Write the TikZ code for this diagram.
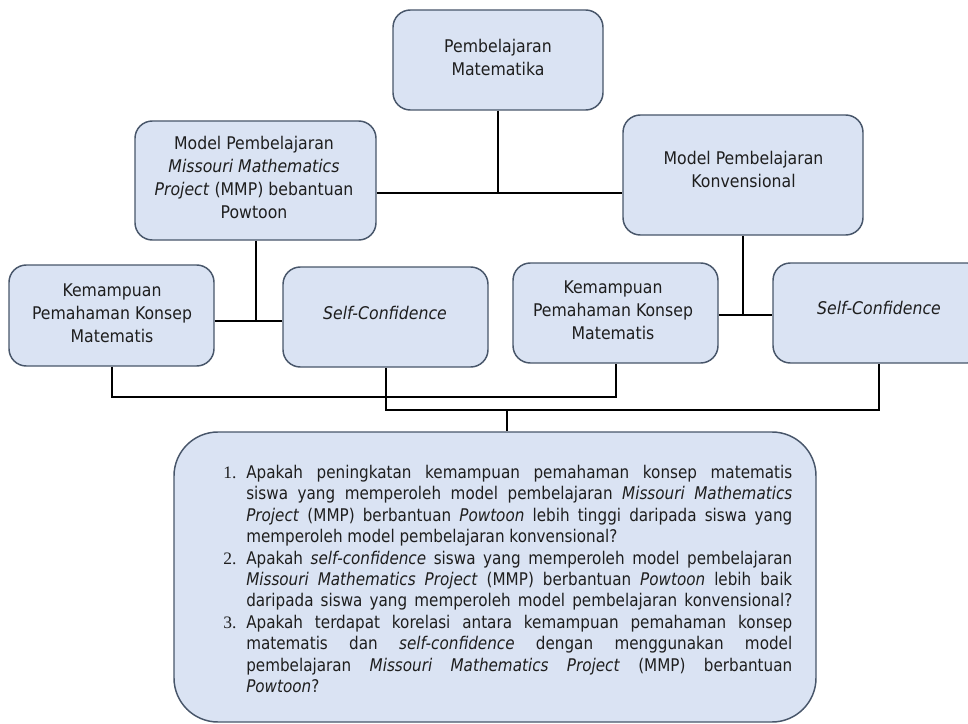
\documentclass[tikz,border=0pt]{standalone}
\usepackage{fontspec}
\setmainfont{DejaVu Sans}[FakeStretch=0.9]
\newfontfamily\bigf{DejaVu Sans}[FakeStretch=0.87]
\newfontfamily\numf{Liberation Serif}
\definecolor{boxfill}{RGB}{218,227,243}
\definecolor{boxline}{RGB}{72,86,106}
\definecolor{txt}{RGB}{30,30,30}
\newdimen\qlw \qlw=409.5pt
\newdimen\qind \qind=17.25pt
\newcommand\qjl[1]{\hbox{\hskip\qind\hbox to \qlw{#1}}}
\newcommand\qnl[1]{\hbox{\hskip\qind #1}}
\newcommand\qfirst[2]{\hbox{\hbox to \qind{\numf #1\hss}\hbox to \qlw{#2}}}
\begin{document}
\begin{tikzpicture}[x=0.75pt,y=-0.75pt,
  sbox/.style={draw=boxline,line width=1.1pt,fill=boxfill,rounded corners=13pt,inner sep=0pt},
  bbox/.style={draw=boxline,line width=1.1pt,fill=boxfill,rounded corners=33pt,inner sep=0pt},
  tx/.style={align=center,inner sep=0pt,text=txt,font=\fontsize{13.1pt}{17.25pt}\selectfont},
  conn/.style={draw=black,line width=1.5pt}]
\useasboundingbox (0,0) rectangle (968,724);
\clip (0,0) rectangle (968,724);
% boxes
\node[sbox,minimum width=157.5pt,minimum height=75pt] (top) at (498,60) {};
\node[sbox,minimum width=180.75pt,minimum height=89.25pt] (lm) at (255.5,180.5) {};
\node[sbox,minimum width=180pt,minimum height=90pt] (rm) at (743,175) {};
\node[sbox,minimum width=153.75pt,minimum height=75.75pt] (k1) at (111.5,315.5) {};
\node[sbox,minimum width=153.75pt,minimum height=75pt] (s1) at (385.5,317) {};
\node[sbox,minimum width=153.75pt,minimum height=75pt] (k2) at (615.5,313) {};
\node[sbox,minimum width=159pt,minimum height=75pt] (s2) at (879,313) {};
\node[bbox,minimum width=481.5pt,minimum height=217.5pt] (big) at (495,577) {};
% connectors
\coordinate (ja) at (498,193);
\draw[conn] (top.south) -- (ja);
\draw[conn] (lm.east |- ja) -- (rm.west |- ja);
\coordinate (jb) at (253,321);
\draw[conn] (lm.south) -- (lm.south |- jb);
\draw[conn] (k1.east |- jb) -- (s1.west |- jb);
\coordinate (jc) at (744,315);
\draw[conn] (rm.south) -- (rm.south |- jc);
\draw[conn] (k2.east |- jc) -- (s2.west |- jc);
\coordinate (jd) at (0,397);
\draw[conn] (k1.south) -- (k1.south |- jd) -- (k2.south |- jd) -- (k2.south);
\coordinate (je) at (507,410);
\draw[conn] (s1.south) -- (s1.south |- je) -- (s2.south |- je) -- (s2.south);
\draw[conn] (je) -- (je |- big.north);
% texts
\node[tx] (topt) at (498,57.5) {Pembelajaran\\Matematika};
\node[tx] (lmt) at (254,177.5) {Model Pembelajaran\\\textit{Missouri Mathematics}\\\textit{Project} (MMP) bebantuan\\Powtoon};
\node[tx] (rmt) at (743.5,169) {Model Pembelajaran\\Konvensional};
\node[tx] (k1t) at (112,313) {Kemampuan\\Pemahaman Konsep\\Matematis};
\node[tx] (s1t) at (385,313) {\textit{Self-Confidence}};
\node[tx] (k2t) at (613,310) {Kemampuan\\Pemahaman Konsep\\Matematis};
\node[tx] (s2t) at (879,308) {\textit{Self-Confidence}};
\node[anchor=north west,inner sep=0pt,text=txt] (qt) at (223,465) {\bigf\fontsize{13.1pt}{16.05pt}\selectfont\vbox{\baselineskip=16.05pt
\qfirst{1.}{Apakah peningkatan kemampuan pemahaman konsep matematis}
\qjl{siswa yang memperoleh model pembelajaran \textit{Missouri Mathematics}}
\qjl{\textit{Project} (MMP) berbantuan \textit{Powtoon} lebih tinggi daripada siswa yang}
\qnl{memperoleh model pembelajaran konvensional?}
\qfirst{2.}{Apakah \textit{self-confidence} siswa yang memperoleh model pembelajaran}
\qjl{\textit{Missouri Mathematics Project} (MMP) berbantuan \textit{Powtoon} lebih baik}
\qjl{daripada siswa yang memperoleh model pembelajaran konvensional?}
\qfirst{3.}{Apakah terdapat korelasi antara kemampuan pemahaman konsep}
\qjl{matematis dan \textit{self-confidence} dengan menggunakan model}
\qjl{pembelajaran \textit{Missouri Mathematics Project} (MMP) berbantuan}
\qnl{\textit{Powtoon}?}
}};
\end{tikzpicture}
\end{document}
